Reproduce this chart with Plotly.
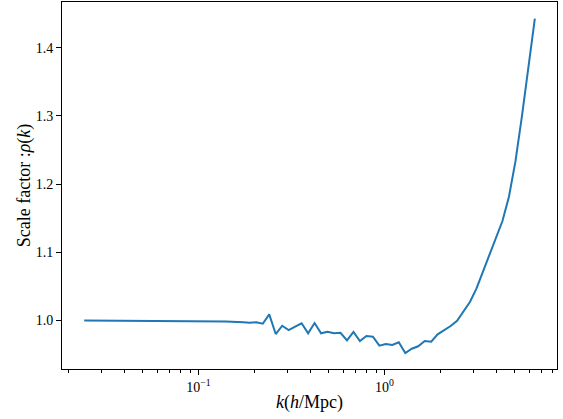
import plotly.graph_objects as go

k_values = [0.02429, 0.0949, 0.14, 0.1741, 0.1886, 0.2044, 0.2215, 0.2399, 0.2600,
            0.2817, 0.3052, 0.3307, 0.3583, 0.3882, 0.4206, 0.4557, 0.4937,
            0.5349, 0.5796, 0.6280, 0.6804, 0.7372, 0.7988, 0.8655, 0.9377,
            1.0160, 1.1008, 1.1927, 1.2923, 1.4003, 1.5171, 1.6438, 1.7810,
            1.9297, 2.0908, 2.2654, 2.4545, 2.6594, 2.8815, 3.1220, 3.3827,
            3.6651, 3.9711, 4.3027, 4.6619, 5.0511, 5.4729, 5.9298, 6.4249]
rho_values = [0.9993, 0.9985, 0.9978, 0.9966, 0.9960, 0.9966, 0.9946, 1.0084, 0.9794,
              0.9916, 0.9853, 0.9902, 0.9952, 0.9805, 0.9956, 0.9805, 0.9828,
              0.9805, 0.9813, 0.9702, 0.9824, 0.9692, 0.9765, 0.9755, 0.9623,
              0.9647, 0.9633, 0.9672, 0.9515, 0.9578, 0.9614, 0.9692, 0.9681,
              0.9790, 0.9853, 0.9912, 0.9990, 1.0132, 1.0269, 1.0466, 1.0709,
              1.0980, 1.1200, 1.1456, 1.1813, 1.2328, 1.2992, 1.3735, 1.4432]

y_ticks = [1.0, 1.1, 1.2, 1.3, 1.4]
y_tick_labels = ["1.0", "1.1", "1.2", "1.3", "1.4"]
x_ticks = [0.1, 1.0]
x_tick_labels = ["10<sup>\u22121</sup>", "10<sup>0</sup>"]

font_family = "Liberation Serif"

fig = go.Figure()
fig.add_trace(go.Scatter(x=k_values, y=rho_values, mode="lines",
                         line=dict(color="#1f77b4", width=2), showlegend=False))

fig.update_layout(
    width=563, height=419,
    margin=dict(l=62, r=6, t=2, b=50),
    paper_bgcolor="white", plot_bgcolor="white",
    font=dict(family=font_family, color="black", size=14),
    xaxis=dict(
        type="log", range=[-1.734, 0.927],
        tickvals=x_ticks, ticktext=x_tick_labels,
        ticks="outside", ticklen=5, tickwidth=1, tickcolor="black",
        minor=dict(ticks="outside", ticklen=3, tickwidth=0.8, tickcolor="black", dtick="D1"),
        showline=True, linecolor="black", linewidth=1, mirror=True,
        showgrid=False, zeroline=False,
        title=dict(text="<i>k</i>(<i>h</i>/Mpc)", font=dict(size=18), standoff=1),
        tickfont=dict(size=14),
    ),
    yaxis=dict(
        range=[0.928, 1.4676],
        tickvals=y_ticks, ticktext=y_tick_labels,
        ticks="outside", ticklen=5, tickwidth=1, tickcolor="black",
        showline=True, linecolor="black", linewidth=1, mirror=True,
        showgrid=False, zeroline=False,
        title=dict(text="Scale factor :<i>\u03c1</i>(<i>k</i>)", font=dict(size=18), standoff=0),
        tickfont=dict(size=14),
    ),
)

fig.write_html("out.html")
